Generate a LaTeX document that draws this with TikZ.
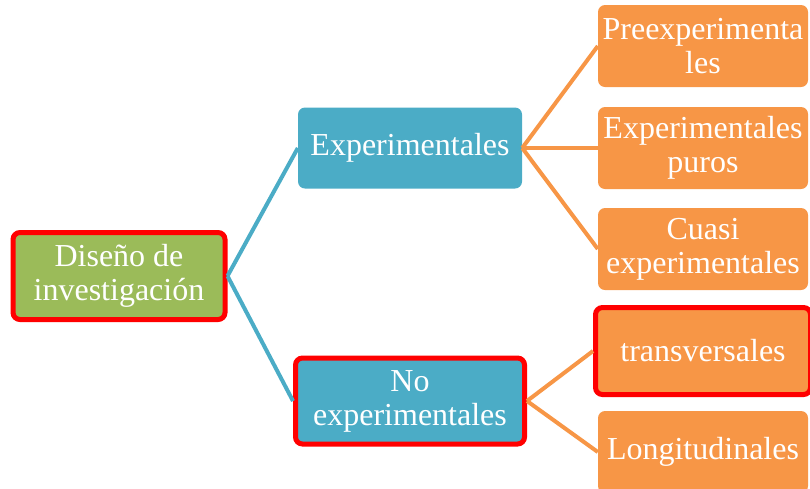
\documentclass[tikz,border=0pt]{standalone}
\usepackage{fontspec}
\setmainfont{Liberation Serif}
\definecolor{cgreen}{HTML}{9BBB59}
\definecolor{cteal}{HTML}{4BACC6}
\definecolor{corange}{HTML}{F79646}
\definecolor{cred}{HTML}{FF0000}
\begin{document}
\begin{tikzpicture}[x=1pt,y=-1pt,
  box/.style={rounded corners=7pt, text=white, align=center, inner sep=0pt,
    font=\fontsize{32}{34}\selectfont},
  hl/.style={draw=cred, line width=5pt},
  tconn/.style={draw=cteal, line width=4pt},
  oconn/.style={draw=corange, line width=4pt}]
\useasboundingbox (0,0) rectangle (810,488);
\begin{scope}
\clip (0,0) rectangle (810,488);
\node[box, hl, fill=cgreen, minimum width=212pt, minimum height=87pt] (dis) at (119,276) {Diseño de\\investigación};
\node[box, fill=cteal, minimum width=224pt, minimum height=81pt] (exp) at (410,148) {Experimentales};
\node[box, hl, fill=cteal, minimum width=229pt, minimum height=86pt] (noexp) at (410,401) {No\\experimentales};
\node[box, fill=corange, minimum width=210pt, minimum height=82pt] (pre) at (703,46) {Preexperimenta\\les};
\node[box, fill=corange, minimum width=210pt, minimum height=82pt] (pur) at (703,148) {Experimentales\\puros};
\node[box, fill=corange, minimum width=210pt, minimum height=82pt] (cua) at (703,249) {Cuasi\\experimentales};
\node[box, hl, fill=corange, minimum width=215pt, minimum height=87pt] (tra) at (703,351) {transversales};
\node[box, fill=corange, minimum width=210pt, minimum height=82pt] (lon) at (703,452) {};
\node[box] (lontext) at (703,452) {Longitudinales};
\end{scope}
\draw[tconn] (dis.east) -- (exp.west);
\draw[tconn] (dis.east) -- (noexp.west);
\draw[oconn] (exp.east) -- (pre.west);
\draw[oconn] (exp.east) -- (pur.west);
\draw[oconn] (exp.east) -- (cua.west);
\draw[oconn] (noexp.east) -- (tra.west);
\draw[oconn] (noexp.east) -- (lon.west);
\end{tikzpicture}
\end{document}
